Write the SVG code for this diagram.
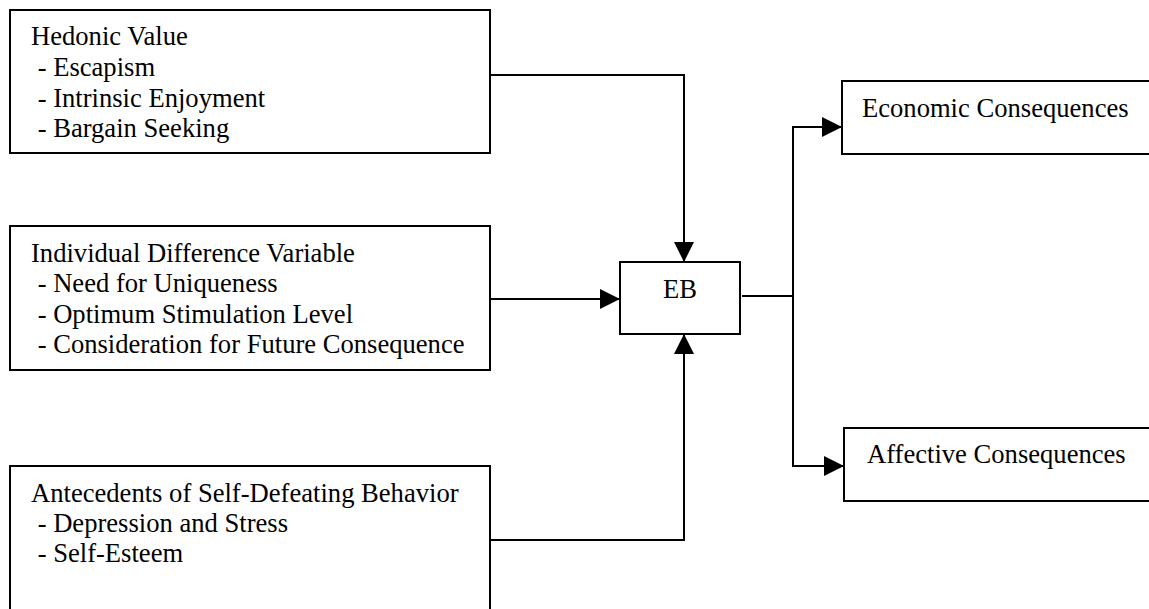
<svg xmlns="http://www.w3.org/2000/svg" width="1149" height="609" viewBox="0 0 1149 609">
  <style>
    .box { fill: #ffffff; stroke: #000000; stroke-width: 2; }
    .lbl { font-family: "Liberation Serif", "Times New Roman", serif; font-size: 26.6px; fill: #000000; }
    .wire { fill: none; stroke: #000000; stroke-width: 2; }
  </style>
  <defs>
    <marker id="arrow" viewBox="0 0 20 20" refX="20" refY="10" markerWidth="20" markerHeight="20" markerUnits="userSpaceOnUse" orient="auto">
      <path d="M0,0 L20,10 L0,20 Z" fill="#000000"/>
    </marker>
  </defs>
  <rect width="1149" height="609" fill="#ffffff"/>

  <g id="hedonic-value">
    <rect class="box" x="10" y="10" width="480" height="143"/>
    <text class="lbl" x="31" y="45">Hedonic Value</text>
    <text class="lbl" x="31" y="76" xml:space="preserve"> - Escapism</text>
    <text class="lbl" x="31" y="107" xml:space="preserve"> - Intrinsic Enjoyment</text>
    <text class="lbl" x="31" y="137" xml:space="preserve"> - Bargain Seeking</text>
  </g>

  <g id="individual-difference">
    <rect class="box" x="10" y="226" width="480" height="144"/>
    <text class="lbl" x="31" y="262">Individual Difference Variable</text>
    <text class="lbl" x="31" y="292" xml:space="preserve"> - Need for Uniqueness</text>
    <text class="lbl" x="31" y="323" xml:space="preserve"> - Optimum Stimulation Level</text>
    <text class="lbl" x="31" y="353" xml:space="preserve"> - Consideration for Future Consequence</text>
  </g>

  <g id="self-defeating">
    <rect class="box" x="10" y="466" width="480" height="160"/>
    <text class="lbl" x="31" y="502">Antecedents of Self-Defeating Behavior</text>
    <text class="lbl" x="31" y="532" xml:space="preserve"> - Depression and Stress</text>
    <text class="lbl" x="31" y="562" xml:space="preserve"> - Self-Esteem</text>
  </g>

  <g id="eb">
    <rect class="box" x="620" y="262" width="120" height="72"/>
    <text class="lbl" x="663" y="298">EB</text>
  </g>

  <g id="economic">
    <rect class="box" x="842" y="81" width="330" height="73"/>
    <text class="lbl" x="862" y="117">Economic Consequences</text>
  </g>

  <g id="affective">
    <rect class="box" x="844" y="428" width="330" height="73"/>
    <text class="lbl" x="867" y="463">Affective Consequences</text>
  </g>

  <g id="connectors">
    <polyline class="wire" points="490,75 684,75 684,262" marker-end="url(#arrow)"/>
    <polyline class="wire" points="490,299 620,299" marker-end="url(#arrow)"/>
    <polyline class="wire" points="490,540 684,540 684,334" marker-end="url(#arrow)"/>
    <polyline class="wire" points="742,296 793,296"/>
    <polyline class="wire" points="793,296 793,127 842,127" marker-end="url(#arrow)"/>
    <polyline class="wire" points="793,296 793,466 844,466" marker-end="url(#arrow)"/>
  </g>
</svg>
